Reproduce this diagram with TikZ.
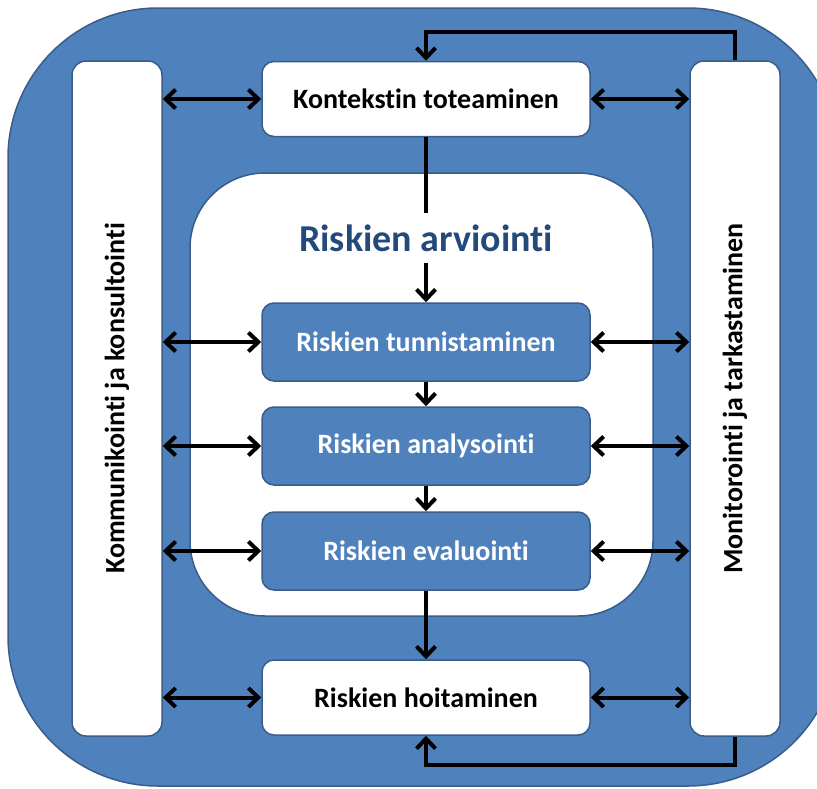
\documentclass[tikz,border=0pt]{standalone}
\usepackage{fontspec}
\setmainfont{Carlito}[Ligatures=NoCommon]
\usetikzlibrary{arrows.meta}
\definecolor{riskblue}{RGB}{79,129,189}
\definecolor{riskline}{RGB}{56,93,138}
\definecolor{risktitle}{RGB}{36,74,124}
\begin{document}
\begin{tikzpicture}[x=1pt,y=1pt,
			boxwhite/.style={rectangle, rounded corners=12pt, draw=riskline, fill=white, line width=1.5pt, minimum width=328pt, font=\fontsize{28}{30}\selectfont\bfseries},
			boxblue/.style={rectangle, rounded corners=12pt, draw=riskline, fill=riskblue, text=white, line width=1.5pt, minimum width=328pt, minimum height=78pt, font=\fontsize{28}{30}\selectfont\bfseries},
			sidebar/.style={rectangle, rounded corners=14pt, draw=riskline, fill=white, line width=1.5pt, minimum width=90pt, minimum height=675pt},
			flow/.style={line width=4pt, -{Straight Barb[length=10pt,width=19pt]}},
			both/.style={line width=4pt, {Straight Barb[length=10pt,width=19pt]}-{Straight Barb[length=10pt,width=19pt]}},
			]
			\centering

\useasboundingbox (0,0) rectangle (817,-788);
\clip (0,0) rectangle (817,-788);
\draw[riskline, fill=riskblue, line width=1.5pt, rounded corners=150pt] (8,-8) rectangle (838,-786);
\draw[riskline, fill=white, line width=1.5pt, rounded corners=75pt] (190,-173) rectangle (653,-616);

\node[sidebar] (komm) at (117,-398.5) {};
\node[sidebar] (moni) at (735,-398.5) {};
\node[rotate=90, font=\fontsize{28}{30}\selectfont\bfseries] at (komm) {Kommunikointi ja konsultointi};
\node[rotate=90, font=\fontsize{28}{30}\selectfont\bfseries] at (moni) {Monitorointi ja tarkastaminen};

\node[boxwhite, minimum height=75pt] (konteksti) at (426,-99) {Kontekstin toteaminen};
\node[text=risktitle, inner sep=11pt, font=\fontsize{38}{40}\selectfont\bfseries] (arviointi) at (426,-238) {Riskien arviointi};
\node[boxblue] (tunnistaminen) at (426,-342) {Riskien tunnistaminen};
\node[boxblue] (analysointi) at (426,-446) {Riskien analysointi};
\node[boxblue] (evaluointi) at (426,-551) {Riskien evaluointi};
\node[boxwhite, minimum height=75pt] (hoitaminen) at (426,-697.5) {Riskien hoitaminen};

\draw[line width=4pt] (konteksti) -- (arviointi);
\draw[flow] (arviointi) -- (tunnistaminen);
\draw[flow] (tunnistaminen) -- (analysointi);
\draw[flow] (analysointi) -- (evaluointi);
\draw[flow] (evaluointi) -- (hoitaminen);

\foreach \n in {konteksti,tunnistaminen,analysointi,evaluointi,hoitaminen}{
\draw[both] (komm.east |- \n.west) -- (\n.west);
\draw[both] (\n.east) -- (moni.west |- \n.east);
}

\draw[flow] (moni.north) -- ++(0,28) -| (konteksti.north);
\draw[flow] (moni.south) -- ++(0,-28) -| (hoitaminen.south);

        \end{tikzpicture}
\end{document}
